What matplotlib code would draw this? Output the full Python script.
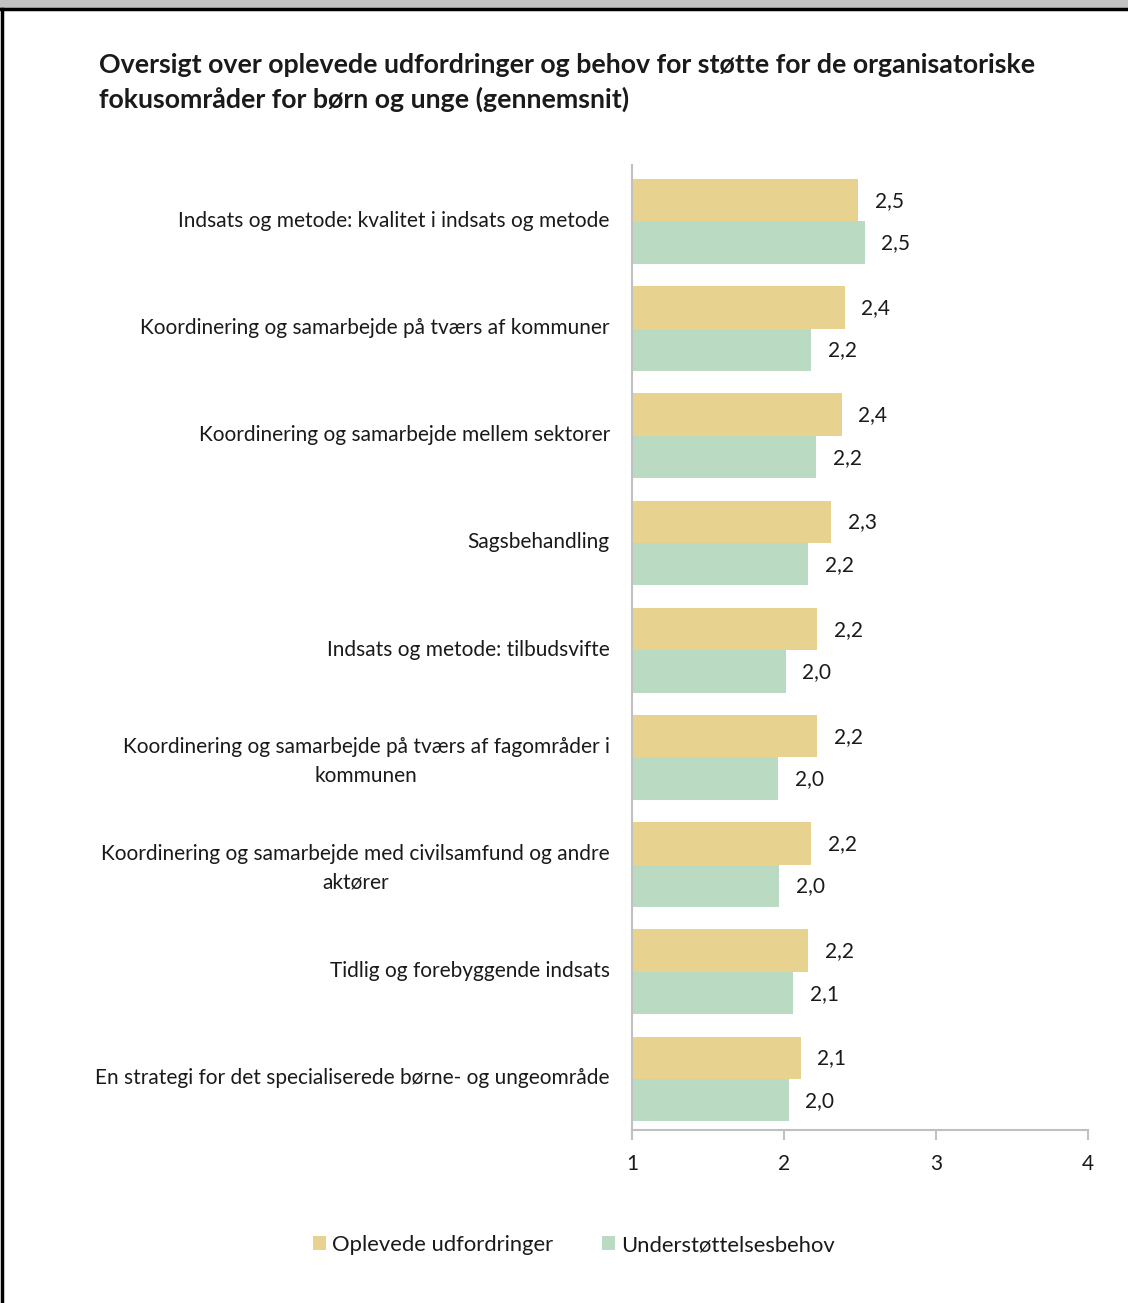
import matplotlib
matplotlib.use("Agg")
import matplotlib.pyplot as plt
from matplotlib.patches import Rectangle, Patch
from matplotlib.lines import Line2D
import numpy as np

plt.rcParams['font.family'] = ['Lato', 'DejaVu Sans']

title = "Oversigt over oplevede udfordringer og behov for støtte for de organisatoriske\nfokusområder for børn og unge (gennemsnit)"
categories = [
    "Indsats og metode: kvalitet i indsats og metode",
    "Koordinering og samarbejde på tværs af kommuner",
    "Koordinering og samarbejde mellem sektorer",
    "Sagsbehandling",
    "Indsats og metode: tilbudsvifte",
    "Koordinering og samarbejde på tværs af fagområder i\nkommunen",
    "Koordinering og samarbejde med civilsamfund og andre\naktører",
    "Tidlig og forebyggende indsats",
    "En strategi for det specialiserede børne- og ungeområde",
]
series_names = ["Oplevede udfordringer", "Understøttelsesbehov"]
oplevede = [2.49, 2.40, 2.38, 2.31, 2.22, 2.22, 2.18, 2.16, 2.11]
understoettelse = [2.53, 2.18, 2.21, 2.16, 2.01, 1.96, 1.97, 2.06, 2.03]
xticks = [1, 2, 3, 4]

c_yellow = "#e8d28f"
c_green = "#bbdac2"
txt = "#1a1a1a"
axc = "#c0c0c0"

W, H = 1128, 1303
fig = plt.figure(figsize=(W/100, H/100), dpi=100)

# frame decorations
fig.add_artist(Rectangle((0, 1-8/H), 1, 8/H, transform=fig.transFigure, facecolor="#c3c3c3", edgecolor="none"))
fig.add_artist(Line2D([0, 1], [1-9/H, 1-9/H], transform=fig.transFigure, color="black", lw=2.5))
fig.add_artist(Line2D([2/W, 2/W], [0, 1-9/H], transform=fig.transFigure, color="black", lw=2.5))

ax = fig.add_axes([632/W, 1-1130/H, (1088-632)/W, (1130-165)/H])
y = np.arange(len(categories))
h = 0.395
b1 = ax.barh(y - h/2 + 0.025, [v - 1 for v in oplevede], left=1, height=h, color=c_yellow, edgecolor="none")
b2 = ax.barh(y + h/2 + 0.025, [v - 1 for v in understoettelse], left=1, height=h, color=c_green, edgecolor="none")

for bars, vals in ((b1, oplevede), (b2, understoettelse)):
    for bar, v in zip(bars, vals):
        ax.annotate(f"{v:.1f}".replace(".", ","), (v, bar.get_y() + bar.get_height()/2),
                    xytext=(12, -0.5), textcoords="offset points", ha="left", va="center",
                    fontsize=15, color=txt)

ax.set_xlim(1, 4)
ax.set_ylim(len(categories) - 0.5, -0.5)
ax.set_xticks(xticks)
ax.set_xticklabels([str(t) for t in xticks], fontsize=15, color=txt)
ax.set_yticks(y)
ax.set_yticklabels(categories, fontsize=15, color=txt, multialignment="center", linespacing=1.55)
for lbl in ax.get_yticklabels():
    lbl.set_ha("right")
ax.tick_params(axis="y", length=0, pad=16)
ax.tick_params(axis="x", length=7, color=axc, width=1.5, pad=10, direction="out")
for s in ("top", "right"):
    ax.spines[s].set_visible(False)
ax.spines["left"].set_color(axc)
ax.spines["left"].set_linewidth(1.5)
ax.spines["bottom"].set_color(axc)
ax.spines["bottom"].set_linewidth(1.5)

fig.text(99/W, 1-53/H, title, fontsize=19.3, fontweight="bold", color=txt, ha="left", va="top", linespacing=1.45)

handles = [Patch(facecolor=c_yellow, edgecolor="none"), Patch(facecolor=c_green, edgecolor="none")]
fig.legend(handles, series_names, loc="center", bbox_to_anchor=(574/W, 1-1245/H), ncol=2, frameon=False,
           fontsize=15.8, handlelength=0.6, handleheight=0.6, handletextpad=0.3, columnspacing=2.2,
           labelcolor=txt)

fig.savefig("out.png", dpi=100, facecolor="white")
